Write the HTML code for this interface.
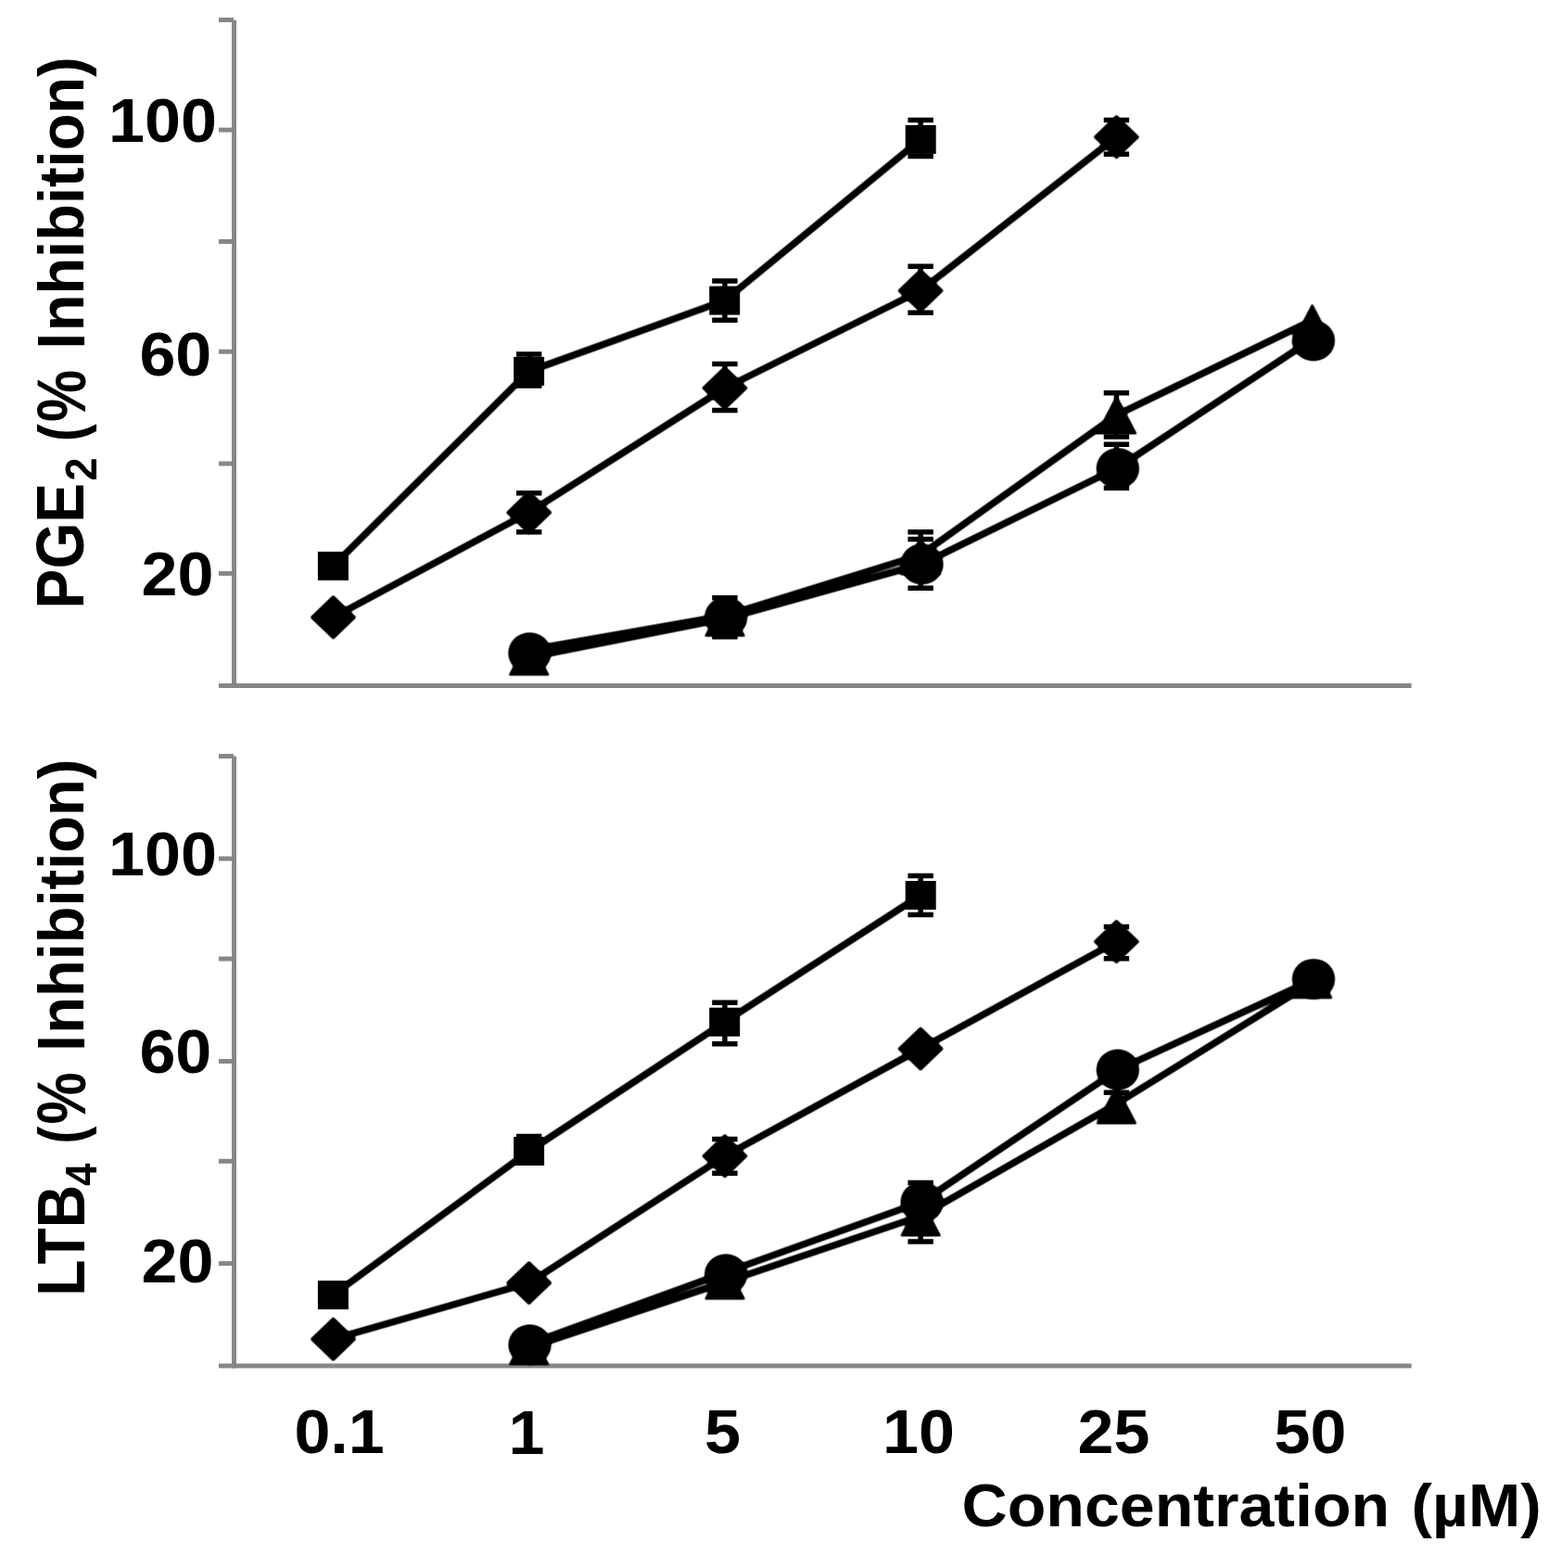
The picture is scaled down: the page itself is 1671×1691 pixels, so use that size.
<!DOCTYPE html>
<html lang="en">
<head>
<meta charset="utf-8">
<title>PGE2 and LTB4 inhibition versus concentration</title>
<style>
html,body{margin:0;padding:0;background:#fff;}
body{width:1671px;height:1691px;overflow:hidden;}
svg{display:block;}
text{white-space:pre;}
</style>
</head>
<body>
<svg width="1671" height="1691" viewBox="0 0 1671 1691">
<defs><filter id="soft" x="0" y="0" width="1671" height="1691" filterUnits="userSpaceOnUse" color-interpolation-filters="sRGB"><feGaussianBlur stdDeviation="0.8"/><feComponentTransfer><feFuncR type="linear" slope="1.7" intercept="-0.35"/><feFuncG type="linear" slope="1.7" intercept="-0.35"/><feFuncB type="linear" slope="1.7" intercept="-0.35"/><feFuncA type="linear" slope="1.7" intercept="-0.35"/></feComponentTransfer></filter></defs>
<rect width="1671" height="1691" fill="#fff"/>
<g fill="#878787">
<rect x="250" y="21.5" width="5" height="720.5"/><rect x="236" y="737" width="1286.6" height="5"/><rect x="236" y="19" width="16" height="5"/><rect x="236" y="137.6" width="16" height="5"/><rect x="236" y="258" width="16" height="5"/><rect x="236" y="376.7" width="16" height="5"/><rect x="236" y="497.5" width="16" height="5"/><rect x="236" y="615.9" width="16" height="5"/>
<rect x="250" y="815.5" width="5" height="660"/><rect x="236" y="1470.5" width="1286.6" height="5"/><rect x="236" y="813" width="16" height="5"/><rect x="236" y="923.5" width="16" height="5"/><rect x="236" y="1031.5" width="16" height="5"/><rect x="236" y="1142" width="16" height="5"/><rect x="236" y="1249.8" width="16" height="5"/><rect x="236" y="1360.1" width="16" height="5"/>
</g>
<g filter="url(#soft)">
<g fill="none" stroke="#000" stroke-width="7.5" stroke-linejoin="round" stroke-linecap="butt">
<polyline points="359.4,610.4 570.6,400.4 781.7,324.1 993.2,150.4"/>
<polyline points="359.5,665.7 570.7,552.7 781.9,418.5 993.1,313.5 1204.4,147.7"/>
<polyline points="570.7,701 782,664 993.1,598.5 1204.5,447.6 1415.6,345.5"/>
<polyline points="571.4,708.9 783.1,667.1 994.5,608.4 1205.8,504.5 1416.9,365"/>
<polyline points="359.4,1396.6 570.6,1241.5 781.7,1102.2 993.2,965.5"/>
<polyline points="359.5,1444.2 570.7,1383.6 781.9,1246.8 993.1,1131.1 1204.4,1015.5"/>
<polyline points="570.7,1453.4 782,1382.7 993.2,1311.5 1204.4,1190.4 1415.6,1059.5"/>
<polyline points="571.5,1449.1 783.1,1372.1 994.6,1296 1205.8,1153.8 1417,1056.5"/>
</g>
<g fill="#000">
<polygon points="548.2,728.7 570.7,685.7 593.2,728.7"/>
<polygon points="759.5,686.7 782,643.7 804.5,686.7"/>
<polygon points="970.6,620.5 993.1,577.5 1015.6,620.5"/>
<polygon points="1182,468.6 1204.5,425.6 1227,468.6"/>
<polygon points="1393.1,369.8 1415.6,326.8 1438.1,369.8"/>
<ellipse cx="571.4" cy="704.2" rx="23.2" ry="22.1"/>
<ellipse cx="783.1" cy="665.8" rx="23.2" ry="22.1"/>
<ellipse cx="994.5" cy="608.4" rx="23.2" ry="22.1"/>
<ellipse cx="1205.8" cy="505.2" rx="23.2" ry="22.1"/>
<ellipse cx="1416.9" cy="367.3" rx="23.2" ry="22.1"/>
<polygon points="334.3,665.7 359.5,641.5 384.7,665.7 359.5,689.9"/>
<polygon points="545.5,552.7 570.7,528.5 595.9,552.7 570.7,576.9"/>
<polygon points="756.7,418.5 781.9,394.3 807.1,418.5 781.9,442.7"/>
<polygon points="967.9,313.5 993.1,289.3 1018.3,313.5 993.1,337.7"/>
<polygon points="1179.2,147.7 1204.4,123.5 1229.6,147.7 1204.4,171.9"/>
<polygon points="548.2,1472.6 570.7,1429.6 593.2,1472.6"/>
<polygon points="759.5,1401.7 782,1358.7 804.5,1401.7"/>
<polygon points="970.7,1333.5 993.2,1290.5 1015.7,1333.5"/>
<polygon points="1181.9,1212.4 1204.4,1169.4 1226.9,1212.4"/>
<polygon points="1393.1,1077.2 1415.6,1034.2 1438.1,1077.2"/>
<ellipse cx="571.5" cy="1450.4" rx="23.2" ry="22.1"/>
<ellipse cx="783.1" cy="1374.4" rx="23.2" ry="22.1"/>
<ellipse cx="994.6" cy="1296.5" rx="23.2" ry="22.1"/>
<ellipse cx="1205.8" cy="1153.7" rx="23.2" ry="22.1"/>
<ellipse cx="1417" cy="1056" rx="23.2" ry="22.1"/>
<polygon points="334.3,1444.2 359.5,1420 384.7,1444.2 359.5,1468.4"/>
<polygon points="545.5,1383.6 570.7,1359.4 595.9,1383.6 570.7,1407.8"/>
<polygon points="756.7,1246.8 781.9,1222.6 807.1,1246.8 781.9,1271"/>
<polygon points="967.9,1131.1 993.1,1106.9 1018.3,1131.1 993.1,1155.3"/>
<polygon points="1179.2,1015.5 1204.4,991.3 1229.6,1015.5 1204.4,1039.7"/>
</g>
</g>
<path d="M570.7,382.1V416M557,382.1H584.4M557,416H584.4M781.9,303.1V345.2M768.2,303.1H795.6M768.2,345.2H795.6M993.1,129.4V168.5M979.4,129.4H1006.8M979.4,168.5H1006.8M570.7,531.7V573.8M557,531.7H584.4M557,573.8H584.4M781.9,392.5V442.4M768.2,392.5H795.6M768.2,442.4H795.6M993.1,287.2V337.3M979.4,287.2H1006.8M979.4,337.3H1006.8M1204.4,129.5V166.3M1190.7,129.5H1218.1M1190.7,166.3H1218.1M993.1,573.7V598M979.4,573.7H1006.8M1204.4,423.7V471M1190.7,423.7H1218.1M1190.7,471H1218.1M781.9,644.7V686.8M768.2,644.7H795.6M768.2,686.8H795.6M993.1,581.4V634.2M979.4,581.4H1006.8M979.4,634.2H1006.8M1204.4,479.2V526.3M1190.7,479.2H1218.1M1190.7,526.3H1218.1" fill="none" stroke="#000" stroke-width="5.5"/>
<path d="M570.7,1225.6V1241.5M557,1225.6H584.4M781.9,1081.2V1125.8M768.2,1081.2H795.6M768.2,1125.8H795.6M993.1,944.4V986.5M979.4,944.4H1006.8M979.4,986.5H1006.8M781.9,1228.5V1265.3M768.2,1228.5H795.6M768.2,1265.3H795.6M1204.4,999.5V1033.8M1190.7,999.5H1218.1M1190.7,1033.8H1218.1M993.1,1311.5V1338.9M979.4,1338.9H1006.8M1204.4,1178.3V1190.4M1190.7,1178.3H1218.1M993.1,1275.5V1296M979.4,1275.5H1006.8" fill="none" stroke="#000" stroke-width="5.5"/>
<g fill="#000">
<rect x="342.9" y="594.9" width="33" height="31"/>
<rect x="554.1" y="384.9" width="33" height="31"/>
<rect x="765.2" y="308.6" width="33" height="31"/>
<rect x="976.7" y="134.9" width="33" height="31"/>
<rect x="342.9" y="1381.1" width="33" height="31"/>
<rect x="554.1" y="1226" width="33" height="31"/>
<rect x="765.2" y="1086.7" width="33" height="31"/>
<rect x="976.7" y="950" width="33" height="31"/>
</g>
<g font-family="'Liberation Sans', Arial, Helvetica, sans-serif" font-weight="bold" fill="#000">
<text x="117.0" y="152.6" font-size="67.2" textLength="116.9" lengthAdjust="spacingAndGlyphs">100</text>
<text x="150.4" y="404.8" font-size="67.2" textLength="77.9" lengthAdjust="spacingAndGlyphs">60</text>
<text x="152.5" y="641.5" font-size="67.2" textLength="77.9" lengthAdjust="spacingAndGlyphs">20</text>
<text x="117.0" y="944.2" font-size="67.2" textLength="116.9" lengthAdjust="spacingAndGlyphs">100</text>
<text x="150.4" y="1157.0" font-size="67.2" textLength="77.9" lengthAdjust="spacingAndGlyphs">60</text>
<text x="152.5" y="1382.9" font-size="67.2" textLength="77.9" lengthAdjust="spacingAndGlyphs">20</text>
<text x="317.4" y="1567.4" font-size="67.2" textLength="97.4" lengthAdjust="spacingAndGlyphs">0.1</text>
<text x="548.5" y="1567.9" font-size="67.2" textLength="39" lengthAdjust="spacingAndGlyphs">1</text>
<text x="760.0" y="1567.4" font-size="67.2" textLength="39" lengthAdjust="spacingAndGlyphs">5</text>
<text x="952.0" y="1567.4" font-size="67.2" textLength="77.9" lengthAdjust="spacingAndGlyphs">10</text>
<text x="1162.6" y="1567.4" font-size="67.2" textLength="77.9" lengthAdjust="spacingAndGlyphs">25</text>
<text x="1374.6" y="1567.4" font-size="67.2" textLength="77.9" lengthAdjust="spacingAndGlyphs">50</text>
<text><tspan x="1037.5" y="1646.3" font-size="64.5" textLength="461.6" lengthAdjust="spacingAndGlyphs">Concentration</tspan><tspan> </tspan><tspan x="1522.6" y="1646.0" font-size="64.5" textLength="140.1" lengthAdjust="spacingAndGlyphs">(µM)</tspan></text>
<text transform="rotate(-90)"><tspan x="-656.4" y="90.3" font-size="71.7" textLength="135.5" lengthAdjust="spacingAndGlyphs">PGE</tspan><tspan x="-518.4" y="104.0" font-size="47.2" textLength="25.1" lengthAdjust="spacingAndGlyphs">2</tspan><tspan> </tspan><tspan x="-476.1" y="90.0" font-size="67.9" textLength="18.9" lengthAdjust="spacingAndGlyphs">(</tspan><tspan x="-455.1" y="91.5" font-size="73.4" textLength="56.3" lengthAdjust="spacingAndGlyphs">%</tspan><tspan> </tspan><tspan x="-376.4" y="90.8" font-size="73.1" textLength="17.4" lengthAdjust="spacingAndGlyphs">I</tspan><tspan x="-357.3" y="90.0" font-size="67.9" textLength="296" lengthAdjust="spacingAndGlyphs">nhibition)</tspan></text>
<text transform="rotate(-90)"><tspan x="-1397.8" y="90.8" font-size="73.1" textLength="119.8" lengthAdjust="spacingAndGlyphs">LTB</tspan><tspan x="-1278.9" y="104.0" font-size="47.7" textLength="24.6" lengthAdjust="spacingAndGlyphs">4</tspan><tspan> </tspan><tspan x="-1233.5" y="90.0" font-size="67.9" textLength="18.9" lengthAdjust="spacingAndGlyphs">(</tspan><tspan x="-1212.5" y="91.5" font-size="73.4" textLength="56.3" lengthAdjust="spacingAndGlyphs">%</tspan><tspan> </tspan><tspan x="-1133.8" y="90.8" font-size="73.1" textLength="17.4" lengthAdjust="spacingAndGlyphs">I</tspan><tspan x="-1114.7" y="90.0" font-size="67.9" textLength="296" lengthAdjust="spacingAndGlyphs">nhibition)</tspan></text>
</g>
</svg>
</body>
</html>
